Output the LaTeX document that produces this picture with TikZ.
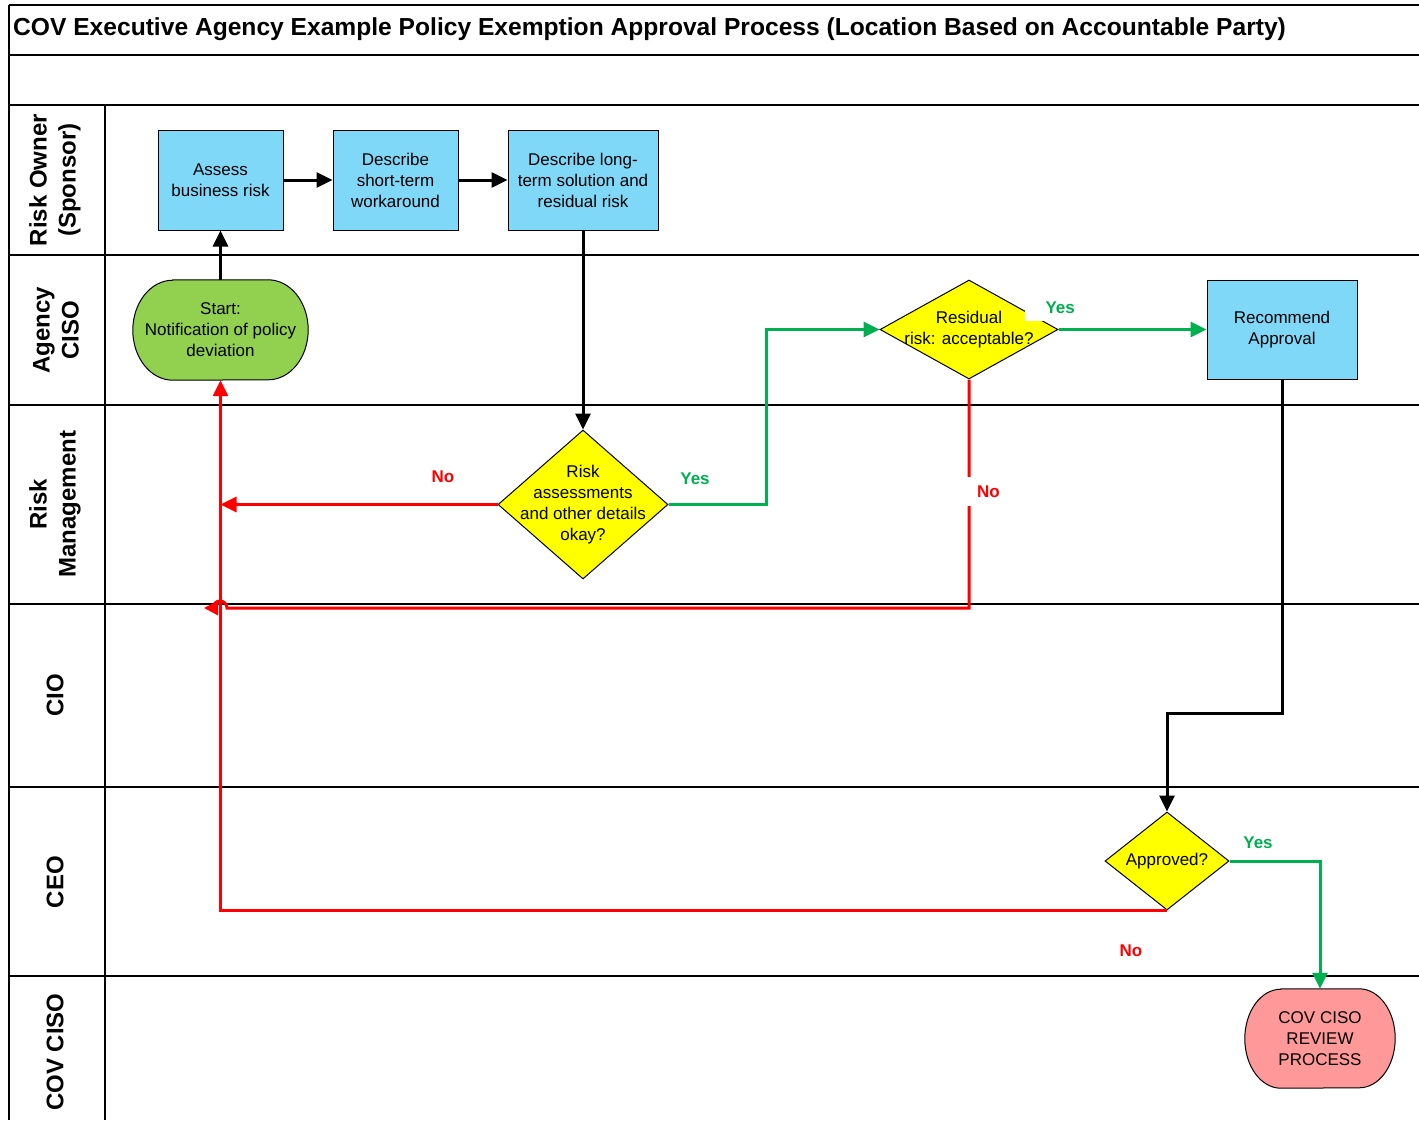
\documentclass[tikz,border=0pt]{standalone}
\usepackage{fontspec}
\setmainfont{Liberation Sans}
\usetikzlibrary{shapes.geometric,arrows.meta,calc,backgrounds}
\definecolor{procblue}{RGB}{128,216,248}
\definecolor{startgreen}{RGB}{146,208,80}
\definecolor{decyellow}{RGB}{255,255,0}
\definecolor{endpink}{RGB}{255,153,153}
\definecolor{yesgreen}{RGB}{0,176,80}
\definecolor{nored}{RGB}{255,0,0}
\tikzset{
  lane/.style={line width=1.5pt, draw=black},
  lanelabel/.style={rotate=90, align=center, font=\bfseries\fontsize{24}{29}\selectfont},
  proc/.style={rectangle, draw=black, line width=1pt, fill=procblue, align=center, font=\fontsize{17}{21}\selectfont},
  dec/.style={diamond, draw=black, line width=1pt, fill=decyellow, inner sep=0pt},
  dectext/.style={align=center, font=\fontsize{17}{21}\selectfont},
  termtext/.style={rectangle, align=center, font=\fontsize{17}{21}\selectfont},
  termshape/.style={draw=black, line width=1pt},
  flow/.style={line width=3pt, -{Triangle[length=16pt,width=15pt]}},
  yeslabel/.style={text=yesgreen, font=\bfseries\fontsize{17}{20}\selectfont, inner sep=1pt},
  nolabel/.style={text=nored, font=\bfseries\fontsize{17}{20}\selectfont, inner sep=1pt},
}
\begin{document}
\begin{tikzpicture}[x=1pt,y=-1pt]
\useasboundingbox (0,0) rectangle (1419,1120);
% swimlane grid
\draw[lane] (9,5) -- (1419,5);
\draw[lane] (9,55) -- (1419,55);
\draw[lane] (9,105) -- (1419,105);
\draw[lane] (9,255) -- (1419,255);
\draw[lane] (9,405) -- (1419,405);
\draw[lane] (9,604) -- (1419,604);
\draw[lane] (9,787) -- (1419,787);
\draw[lane] (9,976) -- (1419,976);
\draw[lane] (9,5) -- (9,1120);
\draw[lane] (105,105) -- (105,1120);
\node[anchor=west, font=\bfseries\fontsize{24.6}{28}\selectfont, inner sep=0pt] (title) at (13,29) {COV Executive Agency Example Policy Exemption Approval Process (Location Based on Accountable Party)};
\node[lanelabel] (l1) at (55,180) {Risk Owner\\(Sponsor)};
\node[lanelabel] (l2) at (56,330) {Agency\\CISO};
\node[lanelabel] (l3) at (55,504) {Risk\\Management};
\node[lanelabel] (l4) at (55,695) {CIO};
\node[lanelabel] (l5) at (55,882) {CEO};
\node[lanelabel] (l6) at (55,1052) {COV CISO};
% process boxes
\node[proc, minimum width=125, minimum height=100] (assess) at (220.5,180) {Assess\\business risk};
\node[proc, minimum width=125, minimum height=100] (short) at (395.5,180) {Describe\\short-term\\workaround};
\node[proc, minimum width=150, minimum height=100] (long) at (583,180) {Describe long-\\term solution and\\residual risk};
\node[proc, minimum width=150, minimum height=99] (rec) at (1282,329.5) {Recommend\\Approval};
% decisions
\node[dec, minimum width=170, minimum height=149, label={[dectext]center:{Risk\\assessments\\and other details\\okay?}}] (risk) at (583,504.5) {};
\node[dec, minimum width=178, minimum height=99, label={[dectext]center:{Residual\\risk: acceptable?}}] (resid) at (969,329.5) {};
\node[dec, minimum width=124, minimum height=98, label={[dectext]center:{Approved?}}] (appr) at (1167,861) {};
% terminals
\node[termtext, minimum width=175, minimum height=100] (start) at (220.5,330) {Start:\\Notification of policy\\deviation};
\node[termtext, minimum width=150, minimum height=99] (endn) at (1320,1038.5) {COV CISO\\REVIEW\\PROCESS};
\begin{pgfonlayer}{background}
\filldraw[termshape, fill=startgreen] ($(start.north west)+(40,0)$) -- ($(start.north east)+(-40,0)$)
  arc[start angle=-90, end angle=90, x radius=40, y radius=50] -- ($(start.south west)+(40,0)$)
  arc[start angle=90, end angle=270, x radius=40, y radius=50] -- cycle;
\filldraw[termshape, fill=endpink] ($(endn.north west)+(36,0)$) -- ($(endn.north east)+(-36,0)$)
  arc[start angle=-90, end angle=90, x radius=36, y radius=49.5] -- ($(endn.south west)+(36,0)$)
  arc[start angle=90, end angle=270, x radius=36, y radius=49.5] -- cycle;
\end{pgfonlayer}
% connectors
\draw[flow] (start.north) -- (assess.south);
\draw[flow] (assess.east) -- (short.west);
\draw[flow] (short.east) -- (long.west);
\draw[flow] (long.south) -- (risk.north);
\draw[flow, nored] (risk.west) -- (risk.west -| start.south);
\node[nolabel] (no1) at (443,477) {No};
\draw[flow, yesgreen] (risk.east) -- ++(98,0) |- (resid.west);
\node[yeslabel] (yes1) at (695,479) {Yes};
\draw[flow, yesgreen] (resid.east) -- (rec.west);
\node[yeslabel, fill=white, anchor=east, minimum height=26] (yes2) at (1076,308) {\hspace{20pt}Yes};
\draw[flow, nored, -{Triangle[length=14pt,width=14pt]}] (resid.south) -- ++(0,228.5) -- (227,608)
  arc[start angle=0, end angle=-180, radius=7] -- ++(-9,0);
\node[nolabel, fill=white, anchor=west, minimum height=29] (no2) at (960,491.5) {\hspace{16pt}No\hspace{2pt}};
\draw[flow, nored] (appr.south) -- (appr.south -| start.south) -- (start.south);
\node[nolabel] (no3) at (1131,951) {No};
\draw[flow] (rec.south) -- ++(0,334) -| (appr.north);
\draw[flow, yesgreen] (appr.east) -| (endn.north);
\node[yeslabel] (yes3) at (1258,843) {Yes};
\end{tikzpicture}
\end{document}
